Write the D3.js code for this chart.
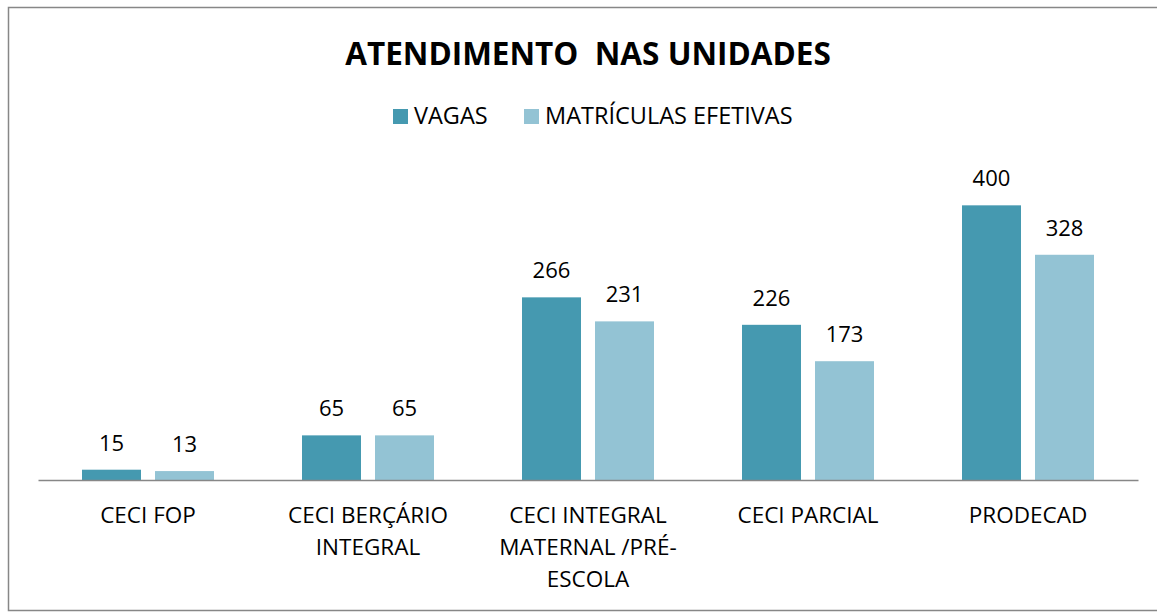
<!DOCTYPE html>
<html>
<head>
<meta charset="utf-8">
<script src="https://cdn.jsdelivr.net/npm/d3@7"></script>
<style>
  body { margin: 0; background: #fff; }
  text { font-family: "Open Sans", "Noto Sans", sans-serif; fill: #000; }
</style>
</head>
<body>
<div id="chart"></div>
<script>
// data
var categories = ["CECI FOP", "CECI BERÇÁRIO\nINTEGRAL", "CECI INTEGRAL\nMATERNAL /PRÉ-\nESCOLA", "CECI PARCIAL", "PRODECAD"];
var seriesNames = ["VAGAS", "MATRÍCULAS EFETIVAS"];
var vagas = [15, 65, 266, 226, 400];
var matriculas = [13, 65, 231, 173, 328];
var colors = ["#4599b0", "#93c3d4"];

var width = 1157, height = 613;

var svg = d3.select("#chart").append("svg")
    .attr("width", width)
    .attr("height", height);

// outer chart border
svg.append("rect")
    .attr("x", 8.5).attr("y", 7.5)
    .attr("width", 1160).attr("height", 603)
    .attr("fill", "none")
    .attr("stroke", "#878787")
    .attr("stroke-width", 1.5);

svg.append("text")
    .attr("x", 588).attr("y", 65)
    .attr("text-anchor", "middle")
    .attr("font-size", "31.5px")
    .attr("font-weight", "bold")
    .attr("xml:space", "preserve")
    .text("ATENDIMENTO  NAS UNIDADES");

// legend
var legendX = [393, 524];
var legend = svg.selectAll(".legend")
    .data(seriesNames)
    .enter().append("g")
    .attr("class", "legend")
    .attr("transform", function(d, i) { return "translate(" + legendX[i] + ",109)"; });

legend.append("rect")
    .attr("width", 15).attr("height", 15)
    .attr("fill", function(d, i) { return colors[i]; });

legend.append("text")
    .attr("x", 21).attr("y", 15)
    .attr("font-size", "23.5px")
    .text(function(d) { return d; });

var x0 = d3.scaleBand()
    .domain(categories)
    .range([38, 1138])
    .paddingInner(0.4)
    .paddingOuter(0.2);

var x1 = d3.scaleBand()
    .domain(seriesNames)
    .range([0, x0.bandwidth()])
    .paddingInner(0.192);

var y = d3.scaleLinear()
    .domain([0, 450])
    .range([480, 171]);

var rows = categories.map(function(c, i) {
    return { cat: c, values: [vagas[i], matriculas[i]] };
});

var groups = svg.selectAll(".cat")
    .data(rows)
    .enter().append("g")
    .attr("class", "cat")
    .attr("transform", function(d) { return "translate(" + x0(d.cat) + ",0)"; });

groups.selectAll("rect")
    .data(function(d) { return d.values.map(function(v, i) { return { s: seriesNames[i], v: v, i: i }; }); })
    .enter().append("rect")
    .attr("x", function(d) { return x1(d.s); })
    .attr("y", function(d) { return y(d.v); })
    .attr("width", x1.bandwidth())
    .attr("height", function(d) { return y(0) - y(d.v); })
    .attr("fill", function(d) { return colors[d.i]; });

groups.selectAll(".lbl")
    .data(function(d) { return d.values.map(function(v, i) { return { s: seriesNames[i], v: v }; }); })
    .enter().append("text")
    .attr("class", "lbl")
    .attr("x", function(d) { return x1(d.s) + x1.bandwidth() / 2; })
    .attr("y", function(d) { return y(d.v) - 19; })
    .attr("text-anchor", "middle")
    .attr("font-size", "22px")
    .text(function(d) { return d.v; });

// category axis
var xAxis = d3.axisBottom(x0).tickSize(0).tickFormat("");
var ax = svg.append("g")
    .attr("transform", "translate(0,480)")
    .call(xAxis);
ax.select(".domain").attr("stroke", "#878787").attr("stroke-width", 1.5);

var catLabels = svg.selectAll(".catlbl")
    .data(categories)
    .enter().append("text")
    .attr("class", "catlbl")
    .attr("text-anchor", "middle")
    .attr("font-size", "22.5px");

catLabels.selectAll("tspan")
    .data(function(d) { return d.split("\n").map(function(t) { return { t: t, c: d }; }); })
    .enter().append("tspan")
    .attr("x", function(d) { return x0(d.c) + x0.bandwidth() / 2; })
    .attr("y", function(d, i) { return 523 + i * 32; })
    .text(function(d) { return d.t; });
</script>
</body>
</html>
